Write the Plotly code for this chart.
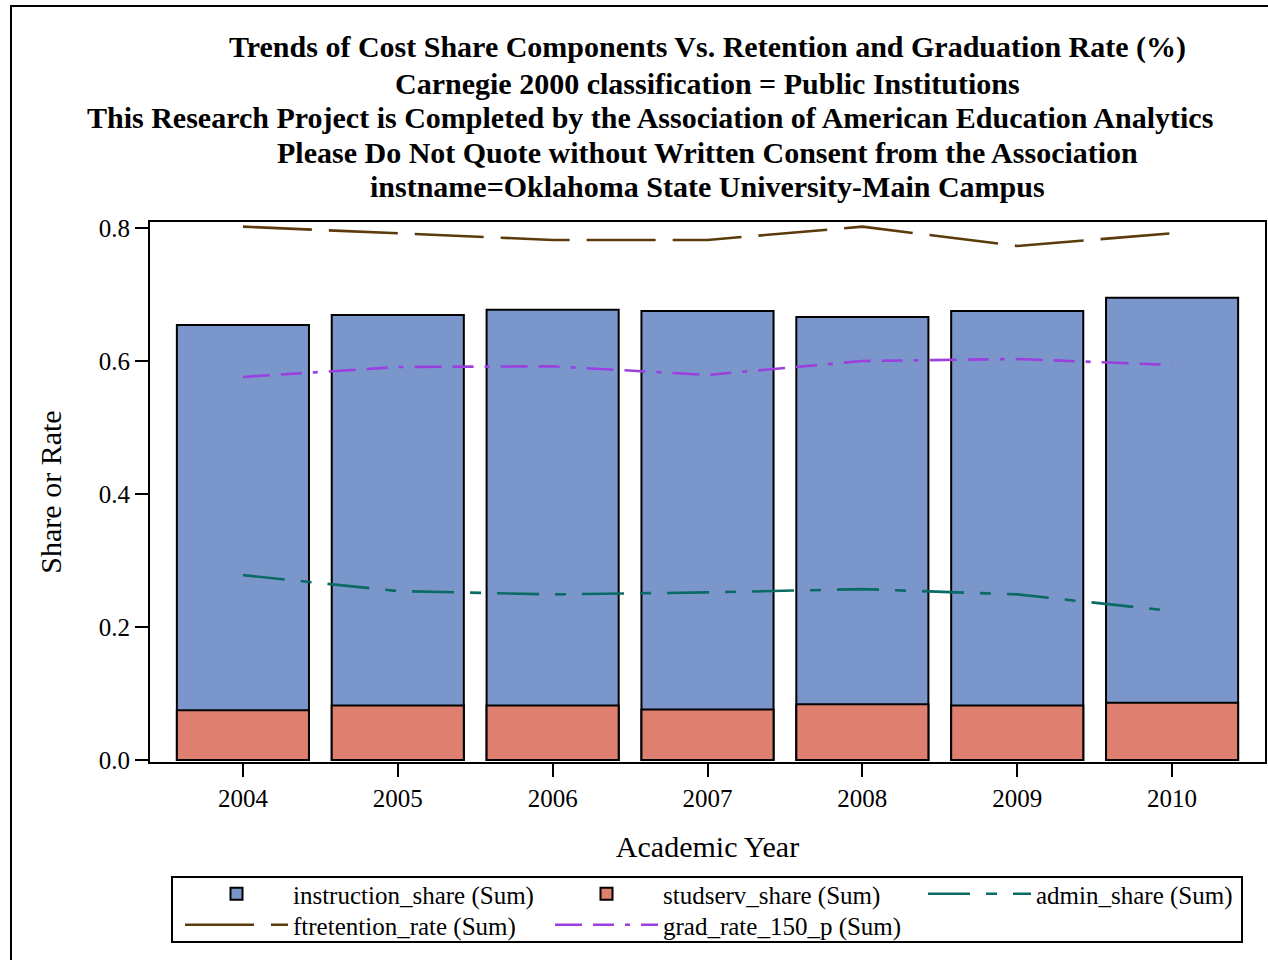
import plotly.graph_objects as go

years = ["2004", "2005", "2006", "2007", "2008", "2009", "2010"]
instruction_share = [0.654, 0.669, 0.677, 0.675, 0.666, 0.675, 0.695]
studserv_share = [0.075, 0.082, 0.082, 0.076, 0.084, 0.082, 0.086]
admin_share = [0.278, 0.254, 0.249, 0.252, 0.257, 0.249, 0.224]
ftretention_rate = [0.802, 0.792, 0.782, 0.782, 0.802, 0.773, 0.792]
grad_rate_150_p = [0.576, 0.591, 0.592, 0.579, 0.600, 0.603, 0.594]

title_lines = [
    "Trends of Cost Share Components Vs. Retention and Graduation Rate (%)",
    "Carnegie 2000 classification = Public Institutions",
    "This Research Project is Completed by the Association of American Education Analytics",
    "Please Do Not Quote without Written Consent from the Association",
    "instname=Oklahoma State University-Main Campus",
]

FONT = "Liberation Serif"
W, H = 1268, 960
L, R, T, B = 150, 1265, 222, 762  # plot area pixel box


def px_x(p):
    return (p - L) / (R - L)


def px_y(p):
    return (B - p) / (B - T)


fig = go.Figure()
fig.add_trace(go.Bar(
    x=years, y=instruction_share, name="instruction_share (Sum)",
    marker=dict(color="#7B96CB", line=dict(color="black", width=2)),
    width=0.853, legend="legend", legendwidth=252,
))
fig.add_trace(go.Bar(
    x=years, y=studserv_share, name="studserv_share (Sum)",
    marker=dict(color="#DE7F70", line=dict(color="black", width=2)),
    width=0.853, legend="legend", legendwidth=255,
))
fig.add_trace(go.Scatter(
    x=years, y=admin_share, name="admin_share (Sum)", mode="lines",
    line=dict(color="#0A6B64", width=2.6, dash="42px,16px,11px,16px"),
    legend="legend", legendwidth=200,
))
fig.add_trace(go.Scatter(
    x=years, y=ftretention_rate, name="ftretention_rate (Sum)", mode="lines",
    line=dict(color="#5B3A0B", width=2.6, dash="69px,17px"),
    legend="legend2", legendwidth=252,
))
fig.add_trace(go.Scatter(
    x=years, y=grad_rate_150_p, name="grad_rate_150_p (Sum)", mode="lines",
    line=dict(color="#9B3FDF", width=2.6, dash="27px,11px,21px,11px,5px,11px"),
    legend="legend2", legendwidth=255,
))

title_centers = [(707, 47), (707, 83), (650, 117), (707, 152), (707, 186)]
annotations = []
for txt, (cx, cy) in zip(title_lines, title_centers):
    annotations.append(dict(
        text="<b>" + txt + "</b>", x=px_x(cx), y=px_y(cy), xref="paper", yref="paper",
        xanchor="center", yanchor="middle", showarrow=False,
        font=dict(family=FONT, size=30, color="black"),
    ))


def legend_row(ypx):
    return dict(
        orientation="h", x=px_x(180), y=px_y(ypx), xanchor="left", yanchor="top",
        borderwidth=0, bgcolor="rgba(0,0,0,0)", itemwidth=103,
        font=dict(family=FONT, size=25, color="black"), traceorder="normal",
    )


fig.update_layout(
    width=W, height=H,
    margin=dict(l=L, r=W - R, t=T, b=H - B, pad=0, autoexpand=False),
    paper_bgcolor="white", plot_bgcolor="white",
    barmode="overlay",
    font=dict(family=FONT, size=25, color="black"),
    annotations=annotations,
    showlegend=True,
    legend=legend_row(871),
    legend2=legend_row(902),
    shapes=[
        dict(type="rect", xref="paper", yref="paper",
             x0=px_x(11), x1=px_x(1300), y0=px_y(6), y1=px_y(1000),
             line=dict(color="black", width=2), fillcolor="rgba(0,0,0,0)", layer="below"),
        dict(type="rect", xref="paper", yref="paper",
             x0=px_x(172), x1=px_x(1242), y0=px_y(877), y1=px_y(942),
             line=dict(color="black", width=2), fillcolor="rgba(0,0,0,0)", layer="below"),
    ],
)

fig.update_xaxes(
    type="category", range=[-0.6, 6.6],
    showline=True, linecolor="black", linewidth=2, mirror=True,
    ticks="outside", ticklen=13, tickwidth=1.5, tickcolor="black",
    showgrid=False, zeroline=False,
    tickfont=dict(family=FONT, size=25),
    title=dict(text="Academic Year", font=dict(family=FONT, size=30), standoff=25),
    automargin=False,
)
fig.update_yaxes(
    range=[-0.003, 0.809],
    tickvals=[0.0, 0.2, 0.4, 0.6, 0.8], ticktext=["0.0", "0.2", "0.4", "0.6", "0.8"],
    showline=True, linecolor="black", linewidth=2, mirror=True,
    ticks="outside", ticklen=13, tickwidth=1.5, tickcolor="black",
    showgrid=False, zeroline=False,
    tickfont=dict(family=FONT, size=25),
    title=dict(text="Share or Rate", font=dict(family=FONT, size=30), standoff=28),
    automargin=False,
)

fig.write_html(
    "out.html",
    config={"displayModeBar": False},
    post_script="document.body.style.margin='0px';",
)
